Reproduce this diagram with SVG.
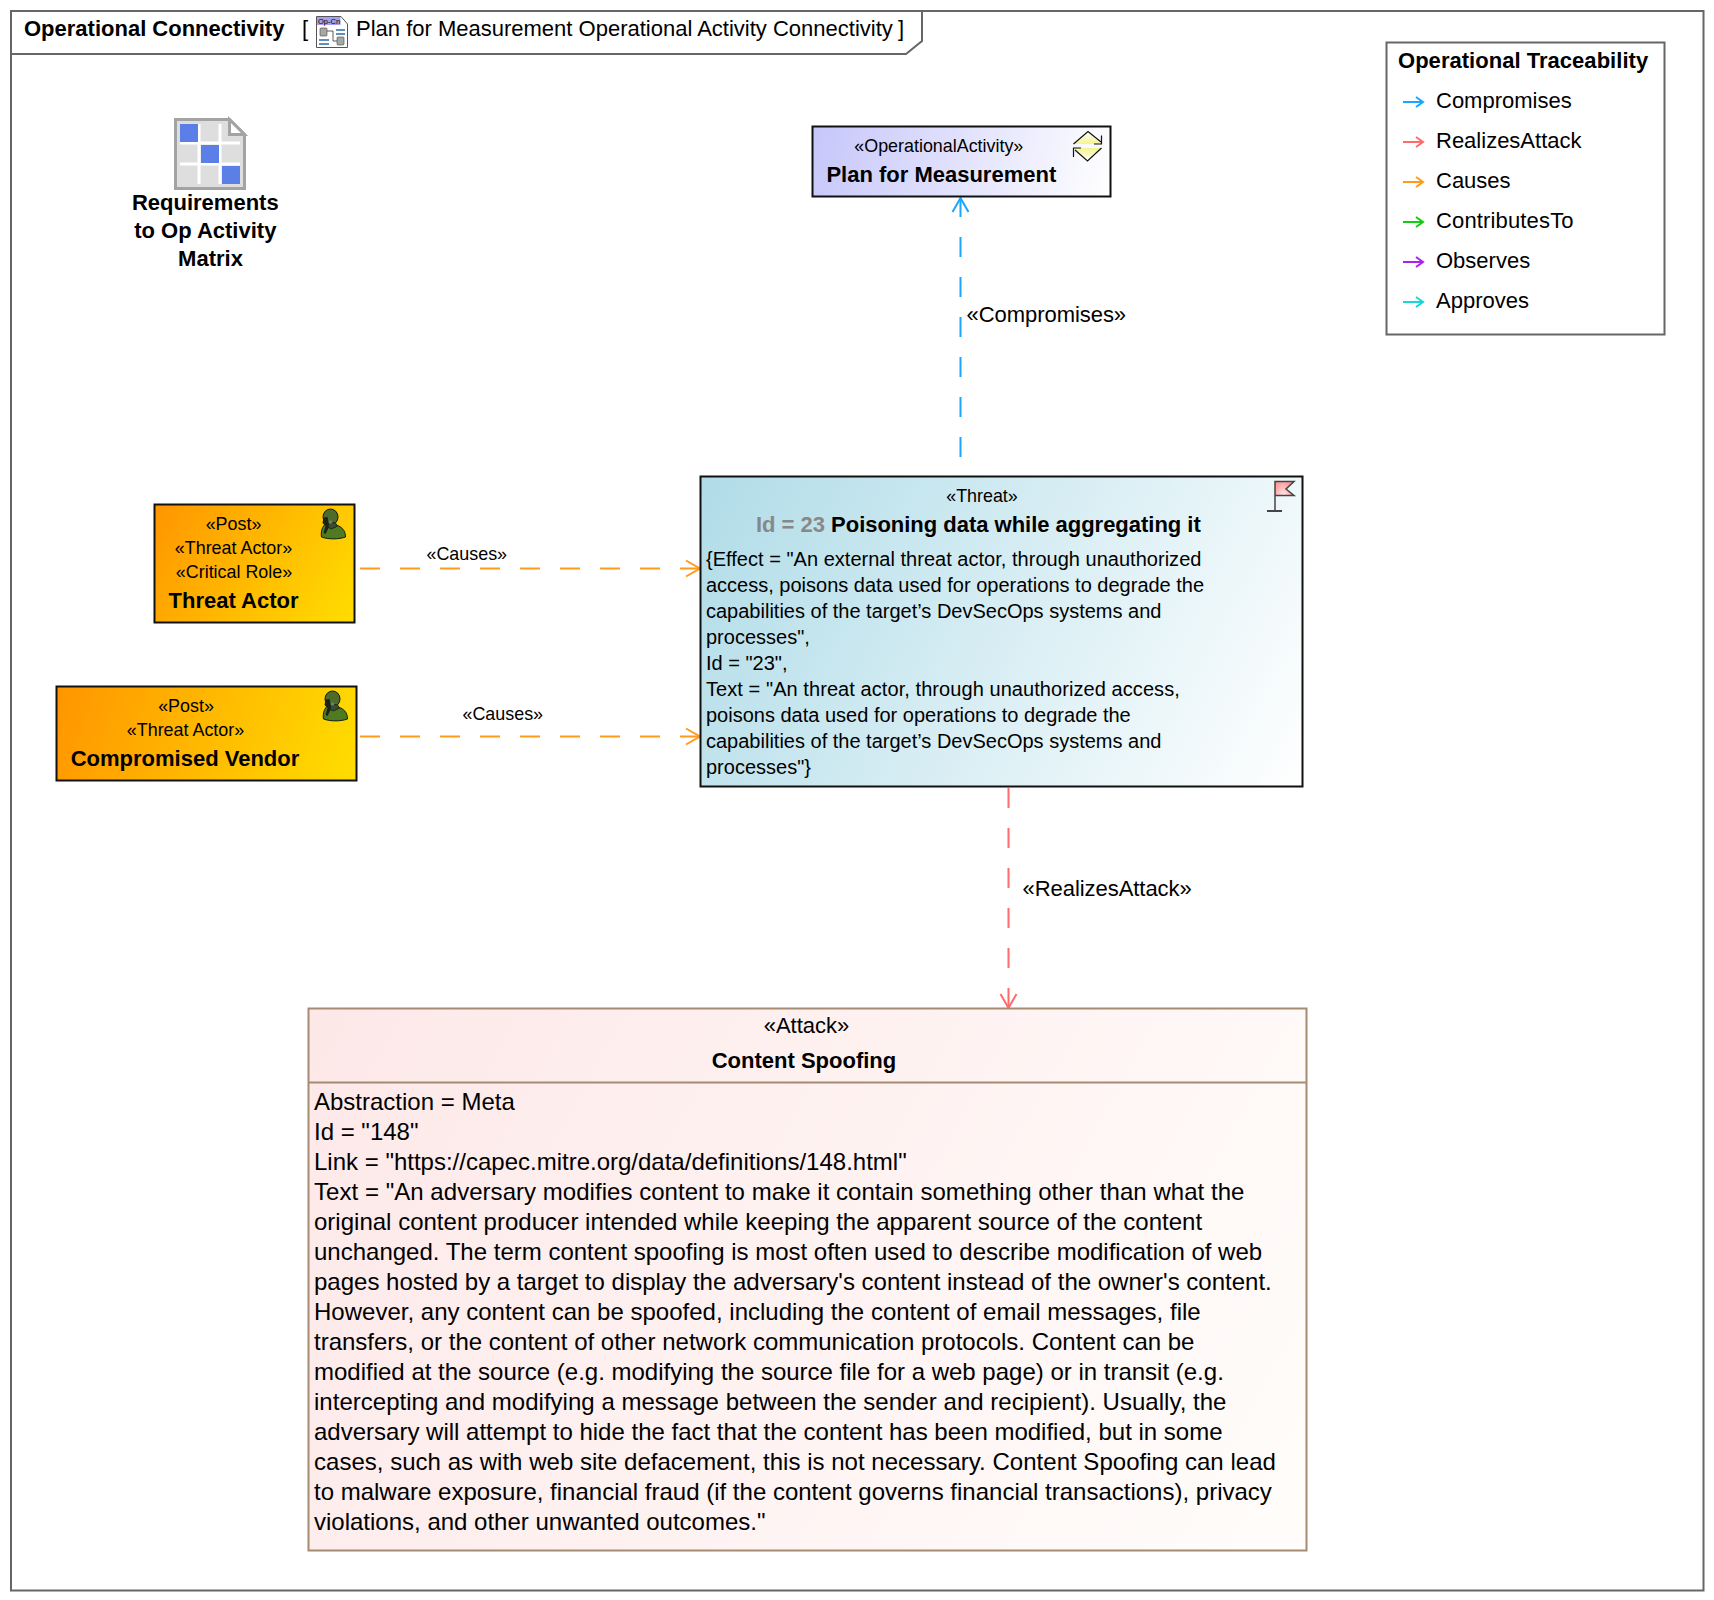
<svg xmlns="http://www.w3.org/2000/svg" width="1714" height="1600" viewBox="0 0 1714 1600">
<style>
text{font-family:"Liberation Sans",Arial,sans-serif;fill:#000}
.b{font-weight:bold}
.c{text-anchor:middle}
.s{font-size:17.9px}
.t22{font-size:22px}
.t20{font-size:20px}
.t24{font-size:24px}
.node{stroke:#111;stroke-width:2}
.frame{fill:none;stroke:#666;stroke-width:2}
.dash{fill:none;stroke-width:2;stroke-dasharray:20 20}
.leg{fill:none;stroke-width:2}
</style>
<defs>
<linearGradient id="gActor1" gradientUnits="userSpaceOnUse" x1="154" y1="504" x2="355" y2="623"><stop offset="0" stop-color="#ff9500"/><stop offset="1" stop-color="#ffde00"/></linearGradient>
<linearGradient id="gActor2" gradientUnits="userSpaceOnUse" x1="56" y1="686" x2="357" y2="781"><stop offset="0" stop-color="#ff9500"/><stop offset="1" stop-color="#ffde00"/></linearGradient>
<linearGradient id="gThreat" gradientUnits="userSpaceOnUse" x1="700" y1="476" x2="1303" y2="787"><stop offset="0" stop-color="#b0dce8"/><stop offset="1" stop-color="#ffffff"/></linearGradient>
<linearGradient id="gPlan" gradientUnits="userSpaceOnUse" x1="812" y1="126" x2="1111" y2="197"><stop offset="0" stop-color="#c6c6fa"/><stop offset="1" stop-color="#ffffff"/></linearGradient>
<linearGradient id="gAttack" gradientUnits="userSpaceOnUse" x1="308" y1="1008" x2="1307" y2="1551"><stop offset="0" stop-color="#fde8e8"/><stop offset="1" stop-color="#fffdfb"/></linearGradient>
<radialGradient id="gFlag" cx="0.45" cy="0.5" r="0.6"><stop offset="0" stop-color="#ffecec"/><stop offset="1" stop-color="#ff8f8f"/></radialGradient>
<linearGradient id="gYelUp" x1="0" y1="0" x2="0" y2="1"><stop offset="0" stop-color="#ffffff"/><stop offset="1" stop-color="#f4f48c"/></linearGradient>
<linearGradient id="gYelDown" x1="0" y1="0" x2="0" y2="1"><stop offset="0" stop-color="#f4f48c"/><stop offset="1" stop-color="#ffffff"/></linearGradient>
<marker id="mBlue" markerUnits="userSpaceOnUse" markerWidth="20" markerHeight="22" refX="16" refY="10" orient="auto"><path d="M2 2L16 10L2 18" fill="none" stroke="#1aa6ff" stroke-width="2"/></marker>
<marker id="mRed" markerUnits="userSpaceOnUse" markerWidth="20" markerHeight="22" refX="16" refY="10" orient="auto"><path d="M2 2L16 10L2 18" fill="none" stroke="#ff6b6b" stroke-width="2"/></marker>
<marker id="mOrange" markerUnits="userSpaceOnUse" markerWidth="20" markerHeight="22" refX="16" refY="10" orient="auto"><path d="M2 2L16 10L2 18" fill="none" stroke="#ff9a1a" stroke-width="2"/></marker>
<symbol id="person" viewBox="0 0 25 30" overflow="visible">
<path d="M1 28C0 22 2 17 6 14L8 12L16 16C21 18 25 21 25 28C18 30.500 8 30.500 1 28Z" fill="#4f7a22" stroke="#10200a" stroke-width="1"/>
<ellipse cx="10" cy="8" rx="7.500" ry="8" fill="#4e6b2c" stroke="#10200a" stroke-width="1"/>
<path d="M9 13L15 14L17 17L11 20L7 18Z" fill="#3a4a34" stroke="#10200a" stroke-width="0.800"/>
<path d="M3 8.500L7 8L8 13L8 19L5 25L3 24L5 17L2 14Z" fill="#1c2218"/>
<circle cx="10" cy="13" r="1.800" fill="#6f7f68"/>
</symbol>
</defs>
<rect width="1714" height="1600" fill="#fff"/>
<g id="frame">
<rect class="frame" x="11" y="11" width="1692.500" height="1579.500"/>
<path class="frame" d="M11 54H906L922 41V11"/>
<text class="b t22" x="24" y="36">Operational Connectivity</text>
<text class="t22" x="302" y="36">[</text>
<g id="frame-icon">
<path d="M316.500 16.500H341L347.500 24V47.500H316.500Z" fill="#fff" stroke="#555"/>
<rect x="317" y="17" width="23.500" height="8" fill="#a0a0f4"/>
<text x="318" y="24" font-size="7.500">Op-Cn</text>
<path d="M327 31H333V41H337" fill="none" stroke="#333" stroke-width="0.800"/>
<rect x="320" y="28" width="7" height="8" rx="1" fill="#a4a8a4" stroke="#444" stroke-width="0.600"/>
<rect x="337" y="37" width="7" height="8" rx="1" fill="#a4a8a4" stroke="#444" stroke-width="0.600"/>
<path d="M336 30H345M336 34H345M319 40H329M319 44H329" stroke="#2b6ca8" stroke-width="1.300" fill="none"/>
</g>
<text class="t22" x="356" y="36">Plan for Measurement Operational Activity Connectivity</text>
<text class="t22" x="898" y="36">]</text>
</g>
<g id="connectors">
<path class="dash" stroke="#1aa6ff" d="M960.500 457V198" marker-end="url(#mBlue)"/>
<path class="dash" stroke="#ff9a1a" d="M360 568.500H700" marker-end="url(#mOrange)"/>
<path class="dash" stroke="#ff9a1a" d="M360 736.500H700" marker-end="url(#mOrange)"/>
<path class="dash" stroke="#ff6b6b" d="M1008.500 788V1008" marker-end="url(#mRed)"/>
<text class="t22" x="966.500" y="322" letter-spacing="-0.050">«Compromises»</text>
<text class="s" x="426.500" y="560">«Causes»</text>
<text class="s" x="462.500" y="720">«Causes»</text>
<text class="t22" x="1022.500" y="896" letter-spacing="-0.050">«RealizesAttack»</text>
</g>
<g id="matrix">
<path d="M175.500 119.500H229.500L244.500 134.500V188.500H175.500Z" fill="#dedede" stroke="#a3a3a3" stroke-width="3"/>
<path d="M229.500 119.500V134.500H244.500Z" fill="#fff" stroke="#a3a3a3" stroke-width="3"/>
<path d="M180 143H240M180 164H240M199 124V184M220 124V184" stroke="#fff" stroke-width="3"/>
<rect x="180" y="124" width="18" height="18" fill="#5b7fe6"/>
<rect x="201" y="145" width="18" height="18" fill="#5b7fe6"/>
<rect x="222" y="166" width="18" height="18" fill="#5b7fe6"/>
<text class="b t22 c" x="205.300" y="210">Requirements</text>
<text class="b t22 c" x="205.300" y="238">to Op Activity</text>
<text class="b t22 c" x="210.500" y="266">Matrix</text>
</g>
<g id="plan">
<rect class="node" x="812.500" y="126.500" width="298" height="70" fill="url(#gPlan)"/>
<path d="M1073.500 144L1088 131.500L1101 144Z" fill="url(#gYelUp)"/>
<path d="M1073.500 144L1088 131.500L1101 142" fill="none" stroke="#111" stroke-width="1.200"/>
<path d="M1101.500 135.500V144H1094" fill="none" stroke="#111" stroke-width="1.200"/>
<path d="M1073.500 148L1087.500 161L1101.500 148Z" fill="url(#gYelDown)"/>
<path d="M1101.500 148L1087.500 161L1075 150" fill="none" stroke="#111" stroke-width="1.200"/>
<path d="M1073.500 157V148H1081" fill="none" stroke="#111" stroke-width="1.200"/>
<text class="s c" x="938.800" y="152">«OperationalActivity»</text>
<text class="b t22 c" x="941.300" y="182">Plan for Measurement</text>
</g>
<g id="threat">
<rect class="node" x="700.500" y="476.500" width="602" height="310" fill="url(#gThreat)"/>
<path d="M1275 511V481.500H1294L1286 489L1294 495.500H1275" fill="url(#gFlag)" stroke="#444" stroke-width="1.500"/>
<path d="M1267 511H1282" stroke="#444" stroke-width="2"/>
<text class="s c" x="982" y="502">«Threat»</text>
<text class="b t22" x="756" y="532" letter-spacing="-0.020"><tspan fill="#888">Id = 23</tspan> Poisoning data while aggregating it</text>
<g class="t20">
<text x="706" y="566" letter-spacing="0.020">{Effect = "An external threat actor, through unauthorized</text>
<text x="706" y="592">access, poisons data used for operations to degrade the</text>
<text x="706" y="618">capabilities of the target’s DevSecOps systems and</text>
<text x="706" y="644">processes",</text>
<text x="706" y="670">Id = "23",</text>
<text x="706" y="696" letter-spacing="0.070">Text = "An threat actor, through unauthorized access,</text>
<text x="706" y="722">poisons data used for operations to degrade the</text>
<text x="706" y="748">capabilities of the target’s DevSecOps systems and</text>
<text x="706" y="774">processes"}</text>
</g>
</g>
<g id="threat-actor">
<rect class="node" x="154.500" y="504.500" width="200" height="118" fill="url(#gActor1)"/>
<use href="#person" x="320.500" y="509" width="25" height="30"/>
<text class="s c" x="233.500" y="530">«Post»</text>
<text class="s c" x="233.500" y="554">«Threat Actor»</text>
<text class="s c" x="234" y="578">«Critical Role»</text>
<text class="b t22 c" x="233.500" y="608">Threat Actor</text>
</g>
<g id="compromised-vendor">
<rect class="node" x="56.500" y="686.500" width="300" height="94" fill="url(#gActor2)"/>
<use href="#person" x="322.500" y="691" width="25" height="30"/>
<text class="s c" x="186" y="712">«Post»</text>
<text class="s c" x="185.500" y="736">«Threat Actor»</text>
<text class="b t22 c" x="185" y="766">Compromised Vendor</text>
</g>
<g id="attack">
<rect x="308.500" y="1008.500" width="998" height="542" fill="url(#gAttack)" stroke="#a68b73" stroke-width="2"/>
<path d="M308.500 1082.500H1306.500" stroke="#a68b73" stroke-width="2"/>
<text class="c t22" x="806.500" y="1033">«Attack»</text>
<text class="b c t22" x="804" y="1068">Content Spoofing</text>
<g class="t24">
<text x="314" y="1110">Abstraction = Meta</text>
<text x="314" y="1140">Id = "148"</text>
<text x="314" y="1170">Link = "https://capec.mitre.org/data/definitions/148.html"</text>
<text x="314" y="1200" letter-spacing="0.040">Text = "An adversary modifies content to make it contain something other than what the</text>
<text x="314" y="1230" letter-spacing="0.010">original content producer intended while keeping the apparent source of the content</text>
<text x="314" y="1260">unchanged. The term content spoofing is most often used to describe modification of web</text>
<text x="314" y="1290">pages hosted by a target to display the adversary's content instead of the owner's content.</text>
<text x="314" y="1320" letter-spacing="0.010">However, any content can be spoofed, including the content of email messages, file</text>
<text x="314" y="1350">transfers, or the content of other network communication protocols. Content can be</text>
<text x="314" y="1380">modified at the source (e.g. modifying the source file for a web page) or in transit (e.g.</text>
<text x="314" y="1410" letter-spacing="0.020">intercepting and modifying a message between the sender and recipient). Usually, the</text>
<text x="314" y="1440">adversary will attempt to hide the fact that the content has been modified, but in some</text>
<text x="314" y="1470" letter-spacing="0.020">cases, such as with web site defacement, this is not necessary. Content Spoofing can lead</text>
<text x="314" y="1500">to malware exposure, financial fraud (if the content governs financial transactions), privacy</text>
<text x="314" y="1530">violations, and other unwanted outcomes."</text>
</g>
</g>
<g id="legend">
<rect x="1386.500" y="42.500" width="278" height="292" fill="#fff" stroke="#666" stroke-width="2"/>
<text class="b t22" x="1398" y="68" letter-spacing="0.030">Operational Traceability</text>
<path class="leg" stroke="#1aa6ff" d="M1403 102H1423M1416 97L1423 102L1416 107"/>
<path class="leg" stroke="#ff6b6b" d="M1403 142H1423M1416 137L1423 142L1416 147"/>
<path class="leg" stroke="#ff9a1a" d="M1403 182H1423M1416 177L1423 182L1416 187"/>
<path class="leg" stroke="#11cc11" d="M1403 222H1423M1416 217L1423 222L1416 227"/>
<path class="leg" stroke="#aa22ee" d="M1403 262H1423M1416 257L1423 262L1416 267"/>
<path class="leg" stroke="#18d6d6" d="M1403 302H1423M1416 297L1423 302L1416 307"/>
<text class="t22" x="1436" y="108">Compromises</text>
<text class="t22" x="1436" y="148">RealizesAttack</text>
<text class="t22" x="1436" y="188">Causes</text>
<text class="t22" x="1436" y="228" letter-spacing="0.150">ContributesTo</text>
<text class="t22" x="1436" y="268">Observes</text>
<text class="t22" x="1436" y="308">Approves</text>
</g>
</svg>
